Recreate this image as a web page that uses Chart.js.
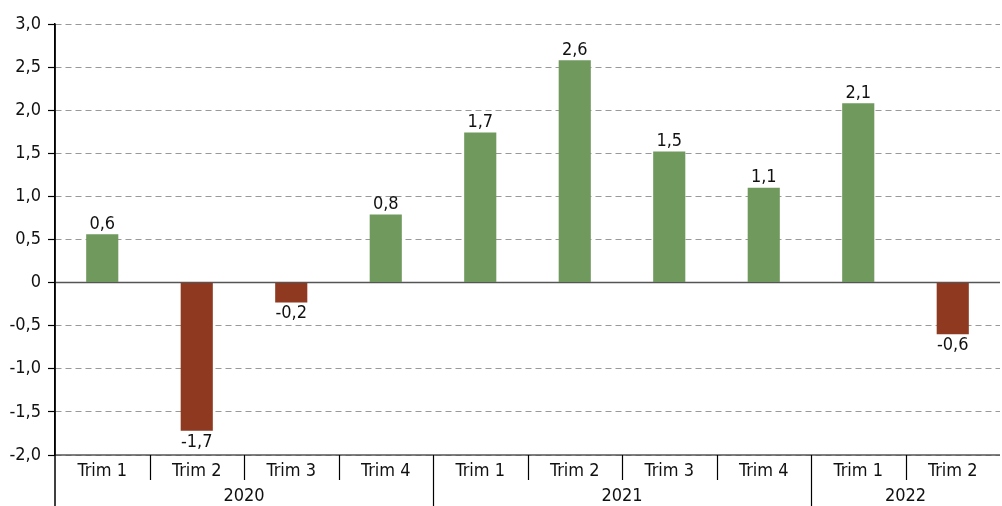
<!DOCTYPE html>
<html>
<head>
<meta charset="utf-8">
<script src="https://cdn.jsdelivr.net/npm/chart.js@4"></script>
<style>
  html, body { margin: 0; padding: 0; background: #fff; }
  #wrap { width: 1002px; height: 506px; }
</style>
</head>
<body>
<div id="wrap"><canvas id="chart"></canvas></div>
<script>
const quarters = ['Trim 1', 'Trim 2', 'Trim 3', 'Trim 4', 'Trim 1', 'Trim 2', 'Trim 3', 'Trim 4', 'Trim 1', 'Trim 2'];
const years = ['2020', '2021', '2022'];
const yearCounts = [4, 4, 2];
const values = [0.56, -1.72, -0.23, 0.79, 1.74, 2.58, 1.52, 1.10, 2.08, -0.60];

const FONT = '"Liberation Sans Narrow", "DejaVu Sans Condensed", Roboto, sans-serif';
const GREEN = '#6f995d';
const RED = '#8e3920';

const fmt = (v) => (v === 0 ? '0' : v.toFixed(1).replace('.', ','));

// custom x axis (two rows), zero line, value labels
const decor = {
  id: 'decor',
  beforeDatasetsDraw(chart) {
    const { ctx, chartArea, scales } = chart;
    const y0 = scales.y.getPixelForValue(0);
    ctx.save();
    ctx.strokeStyle = '#555';
    ctx.lineWidth = 1.5;
    ctx.beginPath();
    ctx.moveTo(chartArea.left, y0);
    ctx.lineTo(chartArea.right, y0);
    ctx.stroke();
    ctx.restore();
  },
  afterDatasetsDraw(chart) {
    const { ctx, chartArea, scales } = chart;
    const x = scales.x;
    const bottom = chartArea.bottom;
    const n = quarters.length;
    const step = (chartArea.right - chartArea.left) / n;
    ctx.save();

    // x axis line
    ctx.strokeStyle = '#555';
    ctx.lineWidth = 1.5;
    ctx.beginPath();
    ctx.moveTo(chartArea.left, bottom);
    ctx.lineTo(chartArea.right, bottom);
    ctx.stroke();

    // y axis extension down through label rows
    ctx.strokeStyle = '#000';
    ctx.beginPath();
    ctx.moveTo(chartArea.left, chartArea.top);
    ctx.lineTo(chartArea.left, chart.height);
    ctx.stroke();

    // separators
    const bounds = [];
    let acc = 0;
    yearCounts.forEach((c) => { acc += c; bounds.push(acc); });
    ctx.strokeStyle = '#000';
    ctx.lineWidth = 1.2;
    for (let i = 1; i < n; i++) {
      const px = Math.round(x.getPixelForValue(i) - step / 2) + 0.5;
      const long = bounds.includes(i);
      ctx.beginPath();
      ctx.moveTo(px, bottom);
      ctx.lineTo(px, long ? chart.height : bottom + 25);
      ctx.stroke();
    }

    // labels
    ctx.fillStyle = '#111';
    ctx.font = '18px ' + FONT;
    ctx.textAlign = 'center';
    ctx.textBaseline = 'middle';
    quarters.forEach((q, i) => {
      ctx.fillText(q, x.getPixelForValue(i), bottom + 16);
    });
    let start = 0;
    years.forEach((yr, k) => {
      const a = x.getPixelForValue(start) - step / 2;
      const b = x.getPixelForValue(start + yearCounts[k] - 1) + step / 2;
      ctx.fillText(yr, (a + b) / 2, bottom + 41);
      start += yearCounts[k];
    });

    // value labels
    const meta = chart.getDatasetMeta(0);
    meta.data.forEach((bar, i) => {
      const v = values[i];
      if (v >= 0) {
        ctx.textBaseline = 'bottom';
        ctx.fillText(fmt(v), bar.x, bar.y - 1);
      } else {
        ctx.textBaseline = 'top';
        ctx.fillText(fmt(v), bar.x, bar.y + 2);
      }
    });
    ctx.restore();
  }
};

const ctx = document.getElementById('chart').getContext('2d');
new Chart(ctx, {
  type: 'bar',
  data: {
    labels: quarters.map((q, i) => i),
    datasets: [{
      data: values,
      backgroundColor: values.map((v) => (v >= 0 ? GREEN : RED)),
      barPercentage: 0.34,
      categoryPercentage: 1.0
    }]
  },
  options: {
    responsive: true,
    maintainAspectRatio: false,
    animation: false,
    layout: { padding: { top: 24, right: 2, bottom: 51, left: 0 } },
    plugins: { legend: { display: false }, tooltip: { enabled: false } },
    scales: {
      x: { type: 'category', display: false, offset: true },
      y: {
        min: -2,
        max: 3,
        afterFit: (s) => { s.width = 55; },
        ticks: {
          stepSize: 0.5,
          color: '#111',
          padding: 7,
          font: { family: FONT, size: 18 },
          callback: (v) => fmt(v)
        },
        grid: {
          color: (c) => (c.tick && c.tick.value === 0 ? 'rgba(0,0,0,0)' : '#999'),
          lineWidth: 1,
          drawTicks: true,
          tickLength: 7,
          tickColor: '#000',
          tickWidth: 1.2
        },
        border: { display: true, color: '#000', width: 1.5, dash: [6, 4] }
      }
    }
  },
  plugins: [decor]
});
</script>
</body>
</html>
